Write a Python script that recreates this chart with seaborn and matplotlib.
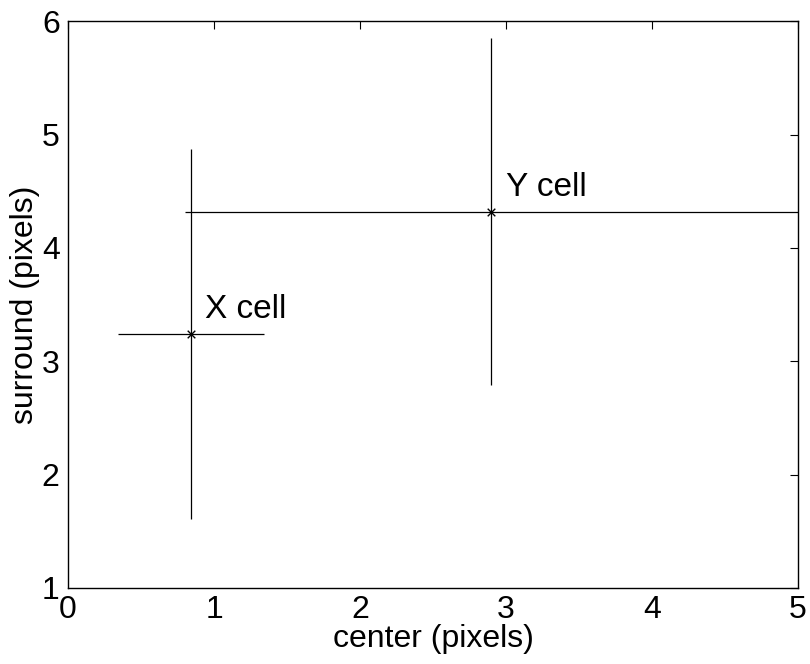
import numpy as np
import pandas as pd
import seaborn as sns
import matplotlib
matplotlib.use("Agg")
import matplotlib.pyplot as plt

# cell types and their center / surround sizes (mean and spread)
cells = ["X cell", "Y cell"]
center = [0.84, 2.90]
center_err = [0.50, 2.10]
surround = [3.24, 4.32]
surround_err = [1.63, 1.53]

df = pd.DataFrame({"cell": cells, "center": center, "surround": surround,
                   "center_err": center_err, "surround_err": surround_err})

sns.set_style("white")
plt.rcParams['font.family'] = ['Liberation Sans', 'DejaVu Sans']
plt.rcParams['text.color'] = 'black'
plt.rcParams['axes.labelcolor'] = 'black'
plt.rcParams['xtick.color'] = 'black'
plt.rcParams['ytick.color'] = 'black'

fig = plt.figure(figsize=(8.1, 6.64), dpi=100)
ax = fig.add_axes([0.084, 0.1145, 0.901, 0.8535])

ax.errorbar(df["center"], df["surround"], xerr=df["center_err"],
            yerr=df["surround_err"], fmt="none", ecolor="black",
            elinewidth=0.9, capsize=0)
sns.scatterplot(data=df, x="center", y="surround", marker="x", color="black",
                s=30, linewidth=1.0, ax=ax, zorder=3)

for _, row in df.iterrows():
    ax.text(row["center"] + 0.1, row["surround"] + 0.14, row["cell"],
            fontsize=24, ha="left", va="baseline", color="black")

ax.set_xlim(0, 5)
ax.set_ylim(1, 6)
ax.set_xticks(range(0, 6))
ax.set_yticks(range(1, 7))
ax.tick_params(direction="in", length=6, width=0.8, labelsize=23,
               top=True, right=True)
ax.tick_params(axis="x", pad=5)
ax.tick_params(axis="y", pad=6)
ax.set_xlabel("center (pixels)", fontsize=23, labelpad=-1)
ax.set_ylabel("surround (pixels)", fontsize=23, labelpad=1)
for sp in ax.spines.values():
    sp.set_color("black")
    sp.set_linewidth(1.0)

fig.savefig("out.png", dpi=100)
